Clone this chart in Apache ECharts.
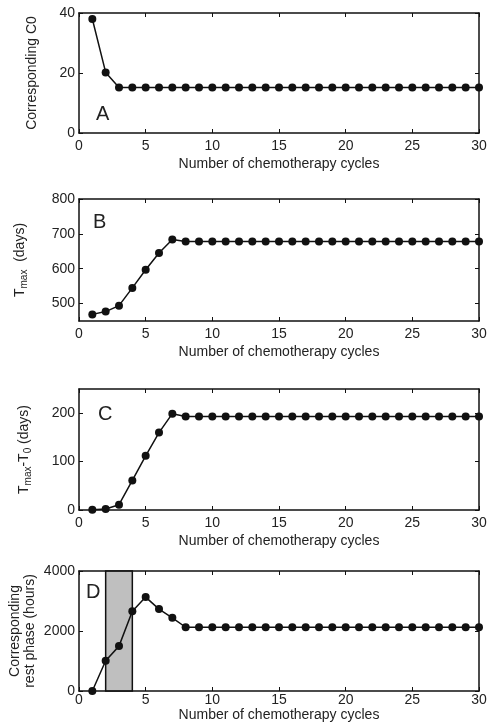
<!DOCTYPE html>
<html>
<head>
<meta charset="utf-8">
<script src="https://cdn.jsdelivr.net/npm/echarts@6/dist/echarts.min.js"></script>
<style>
  html, body { margin: 0; padding: 0; background: #fff; }
  #chart { width: 488px; height: 727px; }
</style>
</head>
<body>
<div id="chart"></div>
<script>
// cycles 1..30
const cycles = Array.from({ length: 30 }, (_, i) => i + 1)

// A: corresponding C0
const c0Values = [38, 20.2, 15.2, 15.2, 15.2, 15.2, 15.2, 15.2, 15.2, 15.2,
  15.2, 15.2, 15.2, 15.2, 15.2, 15.2, 15.2, 15.2, 15.2, 15.2,
  15.2, 15.2, 15.2, 15.2, 15.2, 15.2, 15.2, 15.2, 15.2, 15.2]

// B: Tmax (days)
const tmaxValues = [469, 477, 494, 545, 597, 645, 684, 678, 678, 678,
  678, 678, 678, 678, 678, 678, 678, 678, 678, 678,
  678, 678, 678, 678, 678, 678, 678, 678, 678, 678]

// C: Tmax - T0 (days)
const deltaValues = [0.5, 2, 11, 61, 112, 160, 199, 193, 193, 193,
  193, 193, 193, 193, 193, 193, 193, 193, 193, 193,
  193, 193, 193, 193, 193, 193, 193, 193, 193, 193]

// D: corresponding rest phase (hours)
const restValues = [0, 1008, 1496, 2660, 3130, 2730, 2440, 2125, 2125, 2125,
  2125, 2125, 2125, 2125, 2125, 2125, 2125, 2125, 2125, 2125,
  2125, 2125, 2125, 2125, 2125, 2125, 2125, 2125, 2125, 2125]

const shadedRange = [2, 4]

const panels = [
  { letter: 'A', data: c0Values, min: 0, max: 40, ticks: [0, 20, 40], top: 13, height: 120,
    name: 'Corresponding C0', nameGap: 39, letterPos: [96, 104], labelMargin: 6, xNameGap: 24 },
  { letter: 'B', data: tmaxValues, min: 450, max: 800, ticks: [500, 600, 700, 800], top: 199, height: 122,
    name: '{t|T}{s|max}{t|  (days)}', nameGap: 50, letterPos: [93, 212], labelMargin: 6, xNameGap: 24 },
  { letter: 'C', data: deltaValues, min: 0, max: 250, ticks: [0, 100, 200], top: 389, height: 121,
    name: '{t|T}{s|max}{t|-T}{s|0}{t| (days)}', nameGap: 46, letterPos: [98, 404], labelMargin: 6, xNameGap: 24 },
  { letter: 'D', data: restValues, min: 0, max: 4000, ticks: [0, 2000, 4000], top: 571, height: 120,
    name: 'Corresponding\nrest phase (hours)', nameGap: 41, letterPos: [86, 582], labelMargin: 2, xNameGap: 17 }
]

const font = 'Liberation Sans, Arial, sans-serif'
const black = '#111'

const myChart = echarts.init(document.getElementById('chart'))

const grid = []
const xAxis = []
const yAxis = []
const series = []
const graphic = []

const plain = v => String(v)

panels.forEach((p, i) => {
  grid.push({ left: 79, width: 400, top: p.top, height: p.height, containLabel: false, outerBoundsMode: 'none' })
  // bottom axis with labels
  xAxis.push({
    type: 'value', gridIndex: i, min: 0, max: 30, interval: 5, position: 'bottom',
    name: 'Number of chemotherapy cycles', nameLocation: 'middle', nameGap: p.xNameGap,
    nameMoveOverlap: false,
    nameTextStyle: { fontFamily: font, fontSize: 14, color: '#222' },
    axisLine: { onZero: false, lineStyle: { color: black, width: 1.5 } },
    axisTick: { inside: true, length: 4, lineStyle: { color: black } },
    axisLabel: { fontFamily: font, fontSize: 14, color: '#222', margin: p.labelMargin, formatter: plain },
    splitLine: { show: false }
  })
  // top axis, ticks only
  xAxis.push({
    type: 'value', gridIndex: i, min: 0, max: 30, interval: 5, position: 'top',
    axisLine: { onZero: false, lineStyle: { color: black, width: 1.5 } },
    axisTick: { inside: true, length: 4, lineStyle: { color: black } },
    axisLabel: { show: false },
    splitLine: { show: false }
  })
  yAxis.push({
    type: 'value', gridIndex: i, min: p.min, max: p.max, position: 'left',
    name: p.name, nameLocation: 'middle', nameGap: p.nameGap, nameRotate: 90,
    nameMoveOverlap: false,
    nameTextStyle: {
      fontFamily: font, fontSize: 14, color: '#222', lineHeight: 15,
      rich: {
        t: { fontFamily: font, fontSize: 14, color: '#222', lineHeight: 18 },
        s: { fontFamily: font, fontSize: 10, color: '#222', verticalAlign: 'bottom', lineHeight: 10 }
      }
    },
    axisLine: { show: true, onZero: false, lineStyle: { color: black, width: 1.5 } },
    axisTick: { inside: true, length: 4, customValues: p.ticks, lineStyle: { color: black } },
    axisLabel: { fontFamily: font, fontSize: 14, color: '#222', margin: 4, customValues: p.ticks, formatter: plain },
    splitLine: { show: false }
  })
  yAxis.push({
    type: 'value', gridIndex: i, min: p.min, max: p.max, position: 'right',
    axisLine: { show: true, onZero: false, lineStyle: { color: black, width: 1.5 } },
    axisTick: { inside: true, length: 4, customValues: p.ticks, lineStyle: { color: black } },
    axisLabel: { show: false },
    splitLine: { show: false }
  })
  series.push({
    type: 'line', xAxisIndex: i * 2, yAxisIndex: i * 2, z: 2,
    data: cycles.map((c, k) => [c, p.data[k]]),
    symbol: 'circle', symbolSize: 8, showSymbol: true,
    itemStyle: { color: black },
    lineStyle: { color: black, width: 1.5 },
    animation: false
  })
  graphic.push({
    type: 'text', left: p.letterPos[0], top: p.letterPos[1],
    style: { text: p.letter, font: '20px ' + font, fill: '#222' }
  })
})

// shaded region in panel D, drawn above the line so the points show through
series.push({
  type: 'line', xAxisIndex: 6, yAxisIndex: 6, data: [], z: 5,
  markArea: {
    silent: true,
    itemStyle: { color: 'rgba(128,128,128,0.5)', borderColor: black, borderWidth: 1.5 },
    data: [[{ xAxis: shadedRange[0], yAxis: 0 }, { xAxis: shadedRange[1], yAxis: 4000 }]]
  },
  animation: false
})

const option = {
  backgroundColor: '#fff',
  animation: false,
  grid, xAxis, yAxis, series, graphic
}
option && myChart.setOption(option)
</script>
</body>
</html>
